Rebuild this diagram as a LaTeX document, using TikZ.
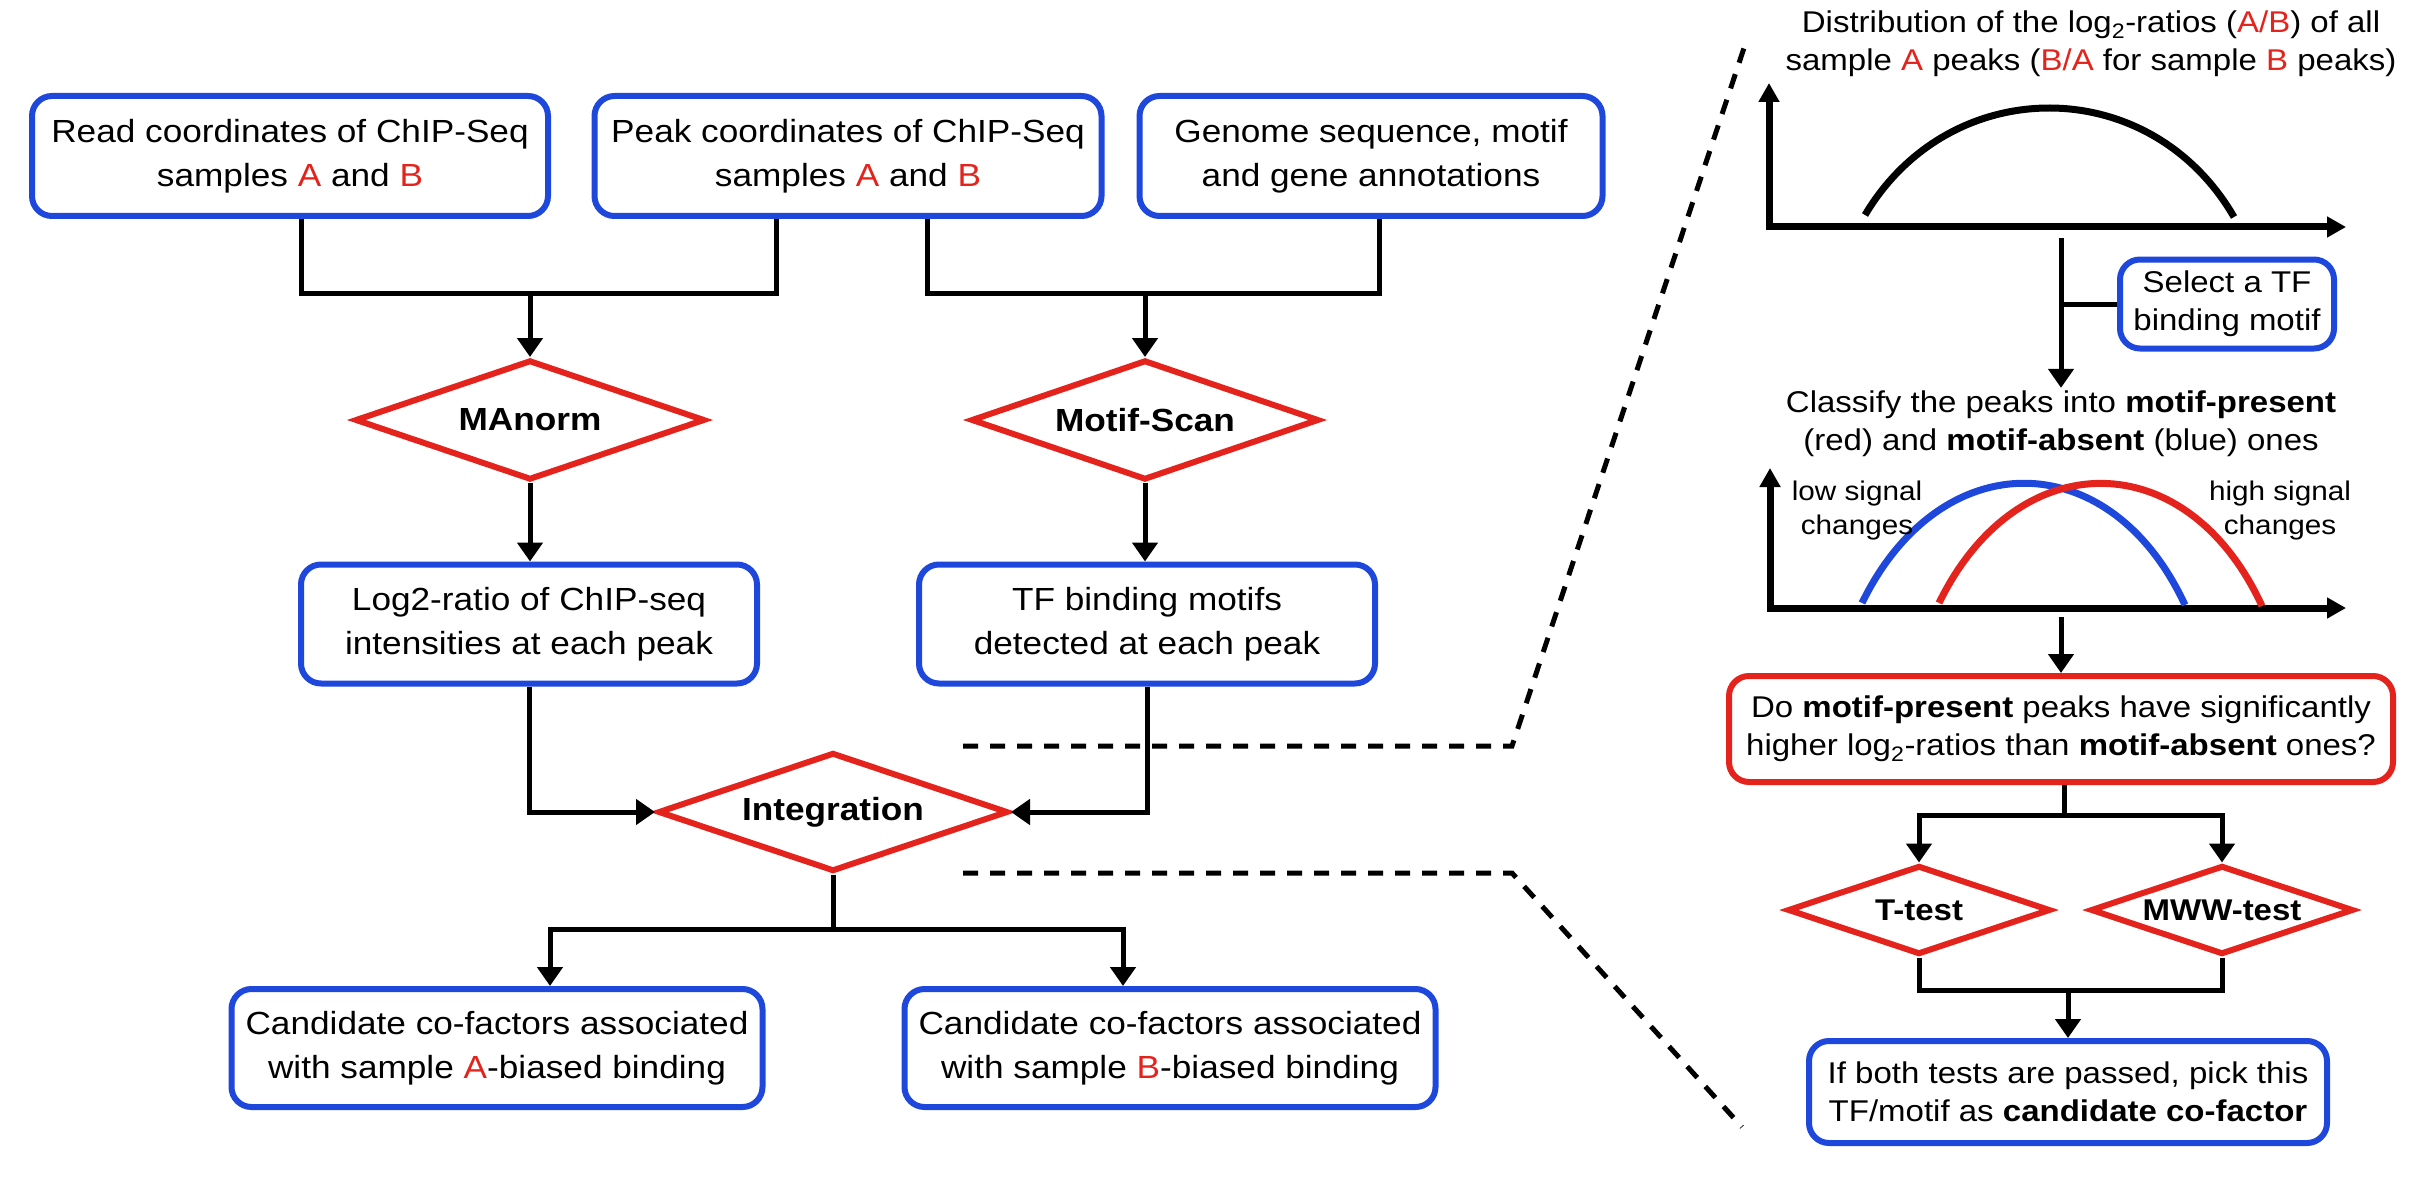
\documentclass[tikz,border=0pt]{standalone}
\usepackage{fontspec}
\setmainfont{Liberation Sans}[FakeStretch=1.1]
\usetikzlibrary{shapes.geometric,arrows.meta}
\definecolor{boxblue}{RGB}{30,72,220}
\definecolor{figred}{RGB}{228,35,28}
\def\rd#1{\textcolor{figred}{#1}}
\def\lgtwo{log\textsubscript{2}}
\def\lfont{\fontsize{32}{44}\selectfont}
\def\rfont{\fontsize{30}{38}\selectfont}

\begin{document}
\begin{tikzpicture}[x=1pt,y=-1pt,
    bbox/.style={draw=boxblue,line width=6pt,rounded corners=20pt,fill=white,
        align=center,inner sep=0pt,font=\lfont},
    dbox/.style={diamond,aspect=3,draw=figred,line width=6pt,inner sep=0pt,
        font=\lfont\bfseries},
    rtext/.style={align=center,inner sep=3pt,font=\rfont},
    link/.style={line width=5pt},
    flow/.style={line width=5pt,-{Triangle[width=25pt,length=19pt]}},
    axes/.style={line width=7pt,{Triangle[width=20pt,length=19pt]}-{Triangle[width=20pt,length=19pt]}},
    curve/.style={line width=7pt},
    zoomline/.style={line width=5pt,dash pattern=on 15pt off 12pt},
  ]
  \useasboundingbox (0,0) rectangle (2428,1185);

  % input boxes
  \node[bbox,minimum width=516pt,minimum height=120pt] (readbox) at (290,156)
    {Read coordinates of ChIP-Seq\\samples \rd{A} and \rd{B}};
  \node[bbox,minimum width=507pt,minimum height=120pt] (peakbox) at (848,156)
    {Peak coordinates of ChIP-Seq\\samples \rd{A} and \rd{B}};
  \node[bbox,minimum width=463pt,minimum height=120pt] (genomebox) at (1371,156)
    {Genome sequence, motif\\and gene annotations};

  % tools
  \node[dbox,minimum width=350pt,minimum height=120pt] (manorm) at (530,420) {MAnorm};
  \node[dbox,minimum width=348pt,minimum height=120pt] (motifscan) at (1145,420) {Motif-Scan};

  \node[bbox,minimum width=456pt,minimum height=119pt] (ratiobox) at (529,624)
    {Log2-ratio of ChIP-seq\\intensities at each peak};
  \node[bbox,minimum width=456pt,minimum height=119pt] (motifbox) at (1147,624)
    {TF binding motifs\\detected at each peak};

  \node[dbox,minimum width=350pt,minimum height=119pt] (integ) at (833,812) {Integration};

  \node[bbox,minimum width=531pt,minimum height=118pt] (candA) at (497,1048)
    {Candidate co-factors associated\\with sample \rd{A}-biased binding};
  \node[bbox,minimum width=531pt,minimum height=118pt] (candB) at (1170,1048)
    {Candidate co-factors associated\\with sample \rd{B}-biased binding};

  % connectors, left part
  \coordinate (mergeA) at (530,293);
  \coordinate (mergeB) at (1145,293);
  \draw[link] ([xshift=11pt]readbox.south) |- (mergeA) -| ([xshift=-72pt]peakbox.south);
  \draw[link] ([xshift=79pt]peakbox.south) |- (mergeB) -| ([xshift=8pt]genomebox.south);
  \draw[flow] (mergeA) -- (manorm.north);
  \draw[flow] (mergeB) -- (motifscan.north);
  \draw[flow] (manorm.south) -- (manorm.south |- ratiobox.north);
  \draw[flow] (motifscan.south) -- (motifscan.south |- motifbox.north);
  \draw[flow] (ratiobox.south) |- (integ.west);
  \draw[flow] (motifbox.south) |- (integ.east);
  \coordinate (split) at (833,929);
  \draw[link] (integ.south) -- (split);
  \draw[flow] (split) -| ([xshift=53pt]candA.north);
  \draw[flow] (split) -| ([xshift=-47pt]candB.north);

  % zoom lines
  \coordinate (zu0) at (963,746);
  \coordinate (zu1) at (1512,746);
  \coordinate (zu2) at (1744,48);
  \coordinate (zl0) at (963,873);
  \coordinate (zl1) at (1512,873);
  \coordinate (zl2) at (1742,1127);
  \draw[zoomline] (zu0) -- (zu1) -- (zu2);
  \draw[zoomline] (zl0) -- (zl1) -- (zl2);

  % right panel: distribution
  \node[rtext] (disttitle) at (2091,44)
    {Distribution of the \lgtwo-ratios (\rd{A/B}) of all\\sample \rd{A} peaks (\rd{B/A} for sample \rd{B} peaks)};
  \coordinate (ytip1) at (1769,83);
  \coordinate (orig1) at (1769,227);
  \coordinate (xtip1) at (2346,227);
  \draw[axes] (ytip1) -- (orig1) -- (xtip1);
  \draw[curve] (1865,215) .. controls (1950,72) and (2150,72) .. (2234,217);

  \node[bbox,font=\rfont,minimum width=214pt,minimum height=89pt] (selectbox) at (2227,304)
    {Select a TF\\binding motif};
  \coordinate (dtop1) at (2061,238);
  \node[rtext] (classify) at (2061,424)
    {Classify the peaks into \textbf{motif-present}\\(red) and \textbf{motif-absent} (blue) ones};
  \draw[flow] (dtop1) -- (dtop1 |- classify.north);
  \draw[link] (selectbox.west) -- (selectbox.west -| dtop1);

  % right panel: two distributions
  \coordinate (ytip2) at (1770,468);
  \coordinate (orig2) at (1770,608);
  \coordinate (xtip2) at (2346,608);
  \draw[axes] (ytip2) -- (orig2) -- (xtip2);
  \draw[curve,boxblue] (1862,603) .. controls (1940,443) and (2110,443) .. (2185,605);
  \draw[curve,figred] (1939,603) .. controls (2017,443) and (2187,443) .. (2262,606);
  \node[rtext,font=\fontsize{27}{34}\selectfont] (lowlab) at (1857,511) {low signal\\changes};
  \node[rtext,font=\fontsize{27}{34}\selectfont] (highlab) at (2280,511) {high signal\\changes};

  % right panel: tests
  \node[bbox,draw=figred,font=\rfont,minimum width=664pt,minimum height=106pt] (testq) at (2061,729)
    {Do \textbf{motif-present} peaks have significantly\\higher \lgtwo-ratios than \textbf{motif-absent} ones?};
  \coordinate (dtop2) at (2061,617);
  \draw[flow] (dtop2) -- (testq.north);

  \node[dbox,font=\rfont\bfseries,minimum width=263pt,minimum height=89pt] (ttest) at (1919,910) {T-test};
  \node[dbox,font=\rfont\bfseries,minimum width=263pt,minimum height=89pt] (mww) at (2222,910) {MWW-test};
  \coordinate (split2) at (2064,815);
  \draw[link] (testq.south -| split2) -- (split2);
  \draw[flow] (split2) -| (ttest.north);
  \draw[flow] (split2) -| (mww.north);

  \node[bbox,font=\rfont,minimum width=518pt,minimum height=102pt] (pickbox) at (2068,1092)
    {If both tests are passed, pick this\\TF/motif as \textbf{candidate co-factor}};
  \coordinate (merge2) at (2068,990);
  \draw[link] (ttest.south) |- (merge2) -| (mww.south);
  \draw[flow] (merge2) -- (pickbox.north);
\end{tikzpicture}
\end{document}
